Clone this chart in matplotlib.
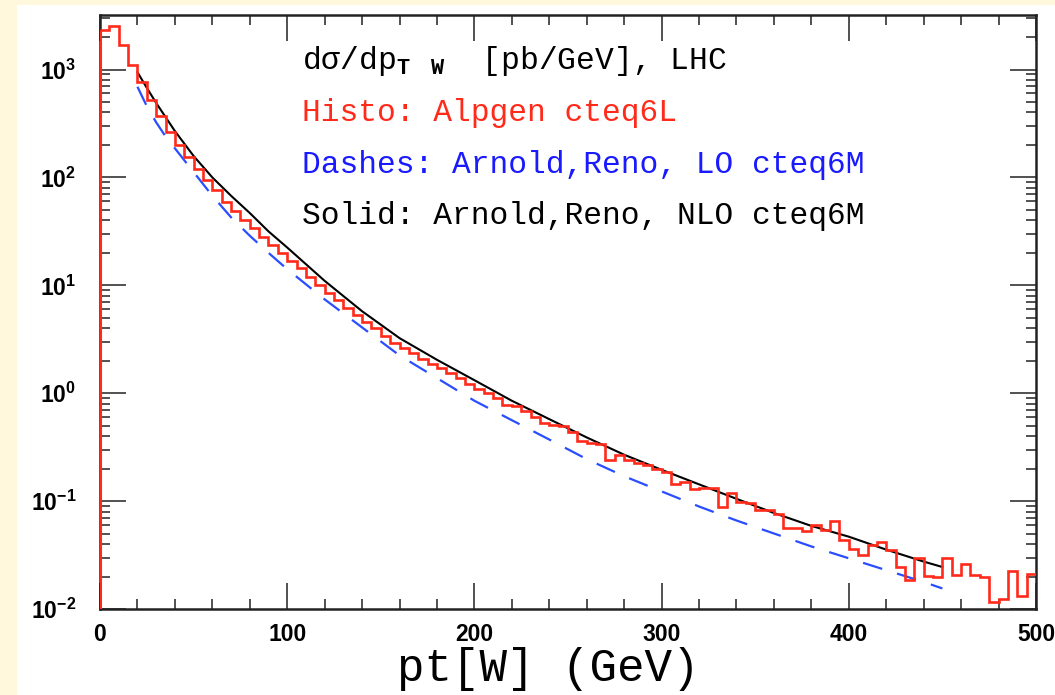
import numpy as np
import matplotlib
matplotlib.use("Agg")
import matplotlib.pyplot as plt
from matplotlib.patches import Rectangle
from matplotlib.ticker import MultipleLocator, LogLocator, NullFormatter

plt.rcParams['font.family'] = ['Liberation Sans', 'DejaVu Sans']
plt.rcParams['mathtext.fontset'] = 'custom'
plt.rcParams['mathtext.bf'] = 'Liberation Mono:bold'

# --- data (pb/GeV) ---
# Alpgen histogram, 5 GeV bins from 0 to 500
bin_edges = np.arange(0, 505, 5)
alpgen = [2330, 2540, 1700, 1110, 759, 525, 367, 263, 198, 155,
          119, 95.5, 75.9, 58.9, 49.0, 40.7, 33.9, 28.2, 23.4, 20.0,
          16.8, 14.5, 12.0, 10.0, 8.51, 7.24, 6.17, 5.25, 4.57, 3.98,
          3.39, 2.95, 2.63, 2.34, 2.09, 1.88, 1.70, 1.53, 1.38, 1.23,
          1.10, 1.00, 0.912, 0.776, 0.759, 0.684, 0.603, 0.525, 0.506, 0.501,
          0.437, 0.363, 0.342, 0.339, 0.240, 0.267, 0.240, 0.224, 0.214, 0.200,
          0.186, 0.145, 0.151, 0.129, 0.132, 0.132, 0.0891, 0.120, 0.0977, 0.0955,
          0.0832, 0.0832, 0.0759, 0.0562, 0.0562, 0.0525, 0.0603, 0.0537, 0.0661, 0.0437,
          0.0363, 0.0316, 0.0389, 0.0417, 0.0355, 0.0245, 0.0186, 0.0295, 0.0202, 0.0200,
          0.0295, 0.0207, 0.0263, 0.0207, 0.0200, 0.0117, 0.0123, 0.0224, 0.0132, 0.0211]

# Arnold-Reno curves
pt_curve = [20, 25, 30, 35, 40, 50, 60, 70, 80, 90, 100, 120, 140, 160, 180,
            200, 220, 240, 260, 280, 300, 320, 340, 360, 380, 400, 420, 440, 450]
nlo = [944, 676, 490, 363, 269, 158, 100, 67.6, 46.8, 31.6, 22.4, 11.0, 5.75, 3.24, 2.04,
       1.32, 0.851, 0.575, 0.389, 0.269, 0.195, 0.143, 0.105, 0.0776, 0.0589,
       0.0468, 0.0355, 0.0275, 0.0245]
lo = [692, 457, 324, 240, 186, 112, 67.6, 42.7, 28.8, 20.0, 14.1, 7.41, 4.07, 2.24, 1.38,
      0.851, 0.562, 0.372, 0.245, 0.170, 0.123, 0.0891, 0.0661, 0.0501, 0.0380,
      0.0295, 0.0229, 0.0178, 0.0155]

RED = '#ff2a1a'
BLUE = '#2a4dff'

fig = plt.figure(figsize=(10.55, 6.95), dpi=100, facecolor='#fff8dc')
fig.add_artist(Rectangle((17 / 1055, 0), 1, 690 / 695, transform=fig.transFigure,
                         facecolor='white', edgecolor='none', zorder=-1))
ax = fig.add_axes([100 / 1055, 86 / 695, 936 / 1055, 594 / 695])

ax.stairs(alpgen, bin_edges, baseline=None, color=RED, lw=1.9, zorder=3)
ax.vlines(bin_edges[0], 1e-2, alpgen[0], color=RED, lw=2.2, zorder=3)
ax.plot(pt_curve, lo, color=BLUE, lw=1.6, ls=(0, (9, 7)))
ax.plot(pt_curve, nlo, color='black', lw=1.5)

ax.set_yscale('log')
ax.set_xlim(0, 500)
ax.set_ylim(1e-2, 3.2e3)

ax.xaxis.set_major_locator(MultipleLocator(100))
ax.xaxis.set_minor_locator(MultipleLocator(20))
ax.yaxis.set_major_locator(LogLocator(base=10))
ax.yaxis.set_minor_locator(LogLocator(base=10, subs=np.arange(2, 10)))
ax.yaxis.set_minor_formatter(NullFormatter())

ax.tick_params(which='both', direction='in', top=True, right=True, color='#222222')
ax.tick_params(which='major', length=19, width=1.1, labelsize=16.5)
ax.tick_params(which='minor', length=7, width=1.1)
ax.tick_params(axis='x', which='major', pad=10)
ax.tick_params(axis='y', which='major', pad=17)
for lab in ax.get_xticklabels() + ax.get_yticklabels():
    lab.set_fontweight('bold')
for s in ax.spines.values():
    s.set_linewidth(1.8)
    s.set_color('#222222')

ax.set_xlabel('pt[W] (GeV)', fontfamily='Liberation Mono', fontsize=33, labelpad=1,
              x=0.479)

mono = dict(fontfamily='Liberation Mono', fontsize=22.5, transform=ax.transAxes,
            va='center', ha='left')
x0 = 0.216
ax.text(x0, 0.922, r'dσ/dp$_{\mathbf{T}\quad\mathbf{W}}$  [pb/GeV], LHC', color='black', **mono)
ax.text(x0, 0.835, 'Histo: Alpgen cteq6L', color=RED, **mono)
ax.text(x0, 0.748, 'Dashes: Arnold,Reno, LO cteq6M', color='#1a1aff', **mono)
ax.text(x0, 0.662, 'Solid: Arnold,Reno, NLO cteq6M', color='black', **mono)

fig.savefig('out.png', dpi=100, facecolor=fig.get_facecolor())
